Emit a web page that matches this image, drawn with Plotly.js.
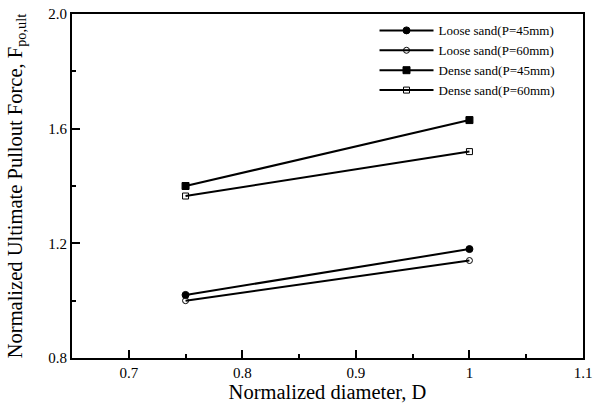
<!DOCTYPE html>
<html>
<head>
<meta charset="utf-8">
<script src="https://cdn.plot.ly/plotly-3.0.1.min.js"></script>
<style>
  html, body { margin: 0; padding: 0; background: #fff; }
  #chart { width: 593px; height: 406px; }
</style>
</head>
<body>
<div id="chart"></div>
<script>
// Normalized diameter values tested
const diameter = [0.75, 1.0];

// Normalized ultimate pullout force for each sand / embedment case
const looseP45 = [1.02, 1.18];
const looseP60 = [1.00, 1.14];
const denseP45 = [1.40, 1.63];
const denseP60 = [1.365, 1.52];

const seriesNames = [
  'Loose sand(P=45mm)',
  'Loose sand(P=60mm)',
  'Dense sand(P=45mm)',
  'Dense sand(P=60mm)'
];

const xTickVals = [0.7, 0.8, 0.9, 1.0, 1.1];
const yTickVals = [0.8, 1.2, 1.6, 2.0];

const serif = 'Liberation Serif, Times New Roman, serif';

function series(name, y, symbol, size) {
  return {
    x: diameter, y: y, name: name, type: 'scatter', mode: 'lines+markers',
    line: { color: '#000', width: 2 },
    marker: { symbol: symbol, size: size, color: '#000',
              line: { color: '#000', width: 1 } }
  };
}

const data = [
  series(seriesNames[0], looseP45, 'circle', 7),
  series(seriesNames[1], looseP60, 'circle-open', 6),
  series(seriesNames[2], denseP45, 'square', 7),
  series(seriesNames[3], denseP60, 'square-open', 6)
];

const layout = {
  width: 593, height: 406,
  margin: { l: 72, r: 10, t: 14, b: 48 },
  paper_bgcolor: '#fff', plot_bgcolor: '#fff',
  font: { family: serif, color: '#000', size: 15 },
  showlegend: true,
  legend: {
    x: 0.592, y: 0.865, xanchor: 'left', yanchor: 'middle',
    bgcolor: 'rgba(0,0,0,0)', borderwidth: 0,
    font: { family: serif, size: 13, color: '#000' },
    itemwidth: 54, tracegroupgap: 0
  },
  xaxis: {
    range: [0.65, 1.1], tickvals: xTickVals,
    ticktext: xTickVals.map(v => String(+v.toFixed(1))),
    ticks: 'inside', ticklen: 8, tickwidth: 2, tickcolor: '#000',
    minor: { dtick: 0.05, tick0: 0.65, ticks: 'inside', ticklen: 4, tickwidth: 2, tickcolor: '#000' },
    showgrid: false, zeroline: false,
    showline: true, linecolor: '#000', linewidth: 2, mirror: true,
    tickfont: { family: serif, size: 15 },
    title: { text: 'Normalized diameter, D', font: { family: serif, size: 20.5 }, standoff: 2 }
  },
  yaxis: {
    range: [0.8, 2.0], tickvals: yTickVals,
    ticktext: yTickVals.map(v => v.toFixed(1)),
    ticks: 'inside', ticklen: 8, tickwidth: 2, tickcolor: '#000',
    minor: { dtick: 0.2, tick0: 0.8, ticks: 'inside', ticklen: 4, tickwidth: 2, tickcolor: '#000' },
    showgrid: false, zeroline: false,
    showline: true, linecolor: '#000', linewidth: 2, mirror: true,
    tickfont: { family: serif, size: 15 },
    title: { text: 'Normalized Ultimate Pullout Force, F<sub>po,ult</sub>', font: { family: serif, size: 20.5 }, standoff: 20 }
  }
};

Plotly.newPlot('chart', data, layout, { displayModeBar: false, staticPlot: true });
</script>
</body>
</html>
